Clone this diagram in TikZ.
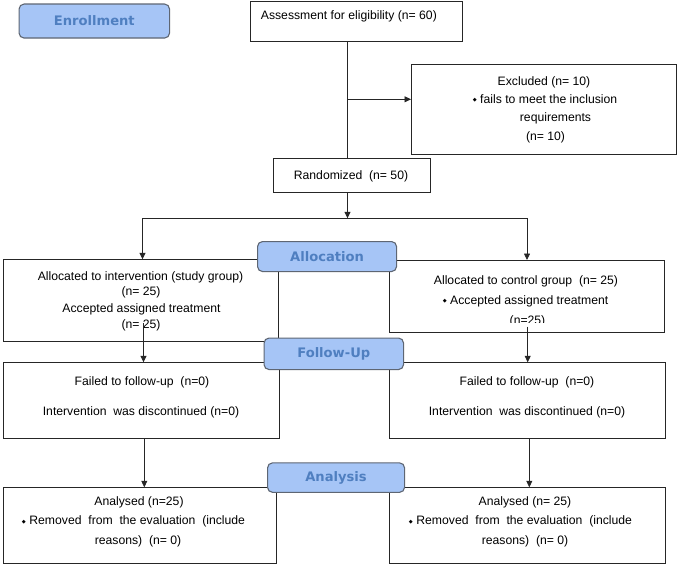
\documentclass[tikz,border=0pt]{standalone}
\usepackage{fontspec}
\setmainfont{Liberation Sans}
\newfontfamily\labfont{DejaVu Sans}
\usetikzlibrary{arrows.meta}
\definecolor{labfill}{HTML}{A6C5F6}
\definecolor{labtext}{HTML}{4F7FC0}
\definecolor{labdraw}{HTML}{5E6673}
\newcommand{\bul}{\raisebox{1.6pt}{{\labfont\scalebox{0.42}{◆}}}\hspace{3.5pt}}
\tikzset{
  box/.style={draw=black!85, line width=0.8pt, fill=white, inner sep=0pt, anchor=north west},
  phase/.style={draw=labdraw, line width=1.1pt, fill=labfill, rounded corners=5pt, inner sep=0pt,
     anchor=north west, text=labtext, font=\labfont\bfseries\fontsize{13.1}{15}\selectfont},
  txt/.style={inner sep=0pt, font=\fontsize{12.2}{14}\selectfont, text height=8.7pt, text depth=2.4pt, anchor=center},
  ln/.style={draw=black!85, line width=0.8pt},
  arr/.style={ln, -{Triangle[length=6.5pt,width=6pt]}}
}
\begin{document}
\begin{tikzpicture}[x=1pt,y=-1pt]
\useasboundingbox (0,0) rectangle (677,564);
% boxes
\node[box, minimum width=212pt, minimum height=40.5pt] (assess) at (250,0.6) {};
\node[box, minimum width=265pt, minimum height=90.5pt] (excl) at (411,63.8) {};
\node[box, minimum width=157pt, minimum height=34pt] (rand) at (272.5,158) {};
\node[box, minimum width=275pt, minimum height=81.5pt] (allocL) at (3.3,259.3) {};
\node[box, minimum width=275pt, minimum height=71.5pt] (allocR) at (388.7,260) {};
\node[box, minimum width=275.5pt, minimum height=76pt] (fuL) at (3.3,362.3) {};
\node[box, minimum width=276pt, minimum height=76pt] (fuR) at (389,362.3) {};
\node[box, minimum width=272.5pt, minimum height=75.5pt] (anL) at (3.3,487.3) {};
\node[box, minimum width=276pt, minimum height=75.5pt] (anR) at (389,487.3) {};
% texts
\node[txt, anchor=west] (tAssess) at (260.7,16.5) {Assessment for eligibility (n= 60)};
\node[txt] (tEx1) at (544,82) {Excluded (n= 10)};
\node[txt] (tEx2) at (545,100) {\bul fails to meet the inclusion};
\node[txt] (tEx3) at (555.5,118) {requirements};
\node[txt] (tEx4) at (545.5,137) {(n= 10)};
\node[txt] (tRand) at (351,176.7) {Randomized\ \ (n= 50)};
\node[txt] (tAL1) at (140.5,277) {Allocated to intervention (study group)};
\node[txt] (tAL2) at (141,292.5) {(n= 25)};
\node[txt] (tAL3) at (141.5,309) {Accepted assigned treatment};
\node[txt] (tAL4) at (141,325) {(n= 25)};
\node[txt] (tAR1) at (526,281) {Allocated to control group\ \ (n= 25)};
\node[txt] (tAR2) at (525.5,301) {\bul Accepted assigned treatment};
\begin{scope}
\clip (389,305) rectangle (663,322.5);
\node[txt] (tAR3) at (527.5,321) {(n=25)};
\end{scope}
\node[txt] (tFL1) at (142,382.3) {Failed to follow-up\ \ (n=0)};
\node[txt] (tFL2) at (141,412) {Intervention\ \ was discontinued (n=0)};
\node[txt] (tFR1) at (527,382.3) {Failed to follow-up\ \ (n=0)};
\node[txt] (tFR2) at (527,412) {Intervention\ \ was discontinued (n=0)};
\node[txt] (tNL1) at (139,502) {Analysed (n=25)};
\node[txt] (tNL2) at (133.5,521.5) {\bul Removed\ \ from\ \ the evaluation\ \ (include};
\node[txt] (tNL3) at (138,541) {reasons)\ \ (n= 0)};
\node[txt] (tNR1) at (525,502) {Analysed (n= 25)};
\node[txt] (tNR2) at (520.5,521.5) {\bul Removed\ \ from\ \ the evaluation\ \ (include};
\node[txt] (tNR3) at (525,541) {reasons)\ \ (n= 0)};
% connectors
\coordinate (br) at (347.3,99.3);
\draw[ln] (assess.south -| br) -- (rand.north -| br);
\draw[arr] (br) -- (br -| excl.west);
\coordinate (split) at (347.5,218.3);
\draw[arr] (rand.south -| split) -- (split);
\coordinate (sl) at (142.5,218.3);
\coordinate (sr) at (527,218.3);
\draw[ln] (sl) -- (sr);
\draw[arr] (sl) -- (sl |- allocL.north);
\draw[arr] (sr) -- (sr |- allocR.north);
\coordinate (fl) at (143.5,323);
\draw[arr] (fl) -- (fl |- fuL.north);
\coordinate (fr) at (527.7,326.5);
\draw[arr] (fr) -- (fr |- fuR.north);
\coordinate (al) at (144.3,450);
\draw[arr] (al |- fuL.south) -- (al |- anL.north);
\coordinate (ar) at (529.3,450);
\draw[arr] (ar |- fuR.south) -- (ar |- anR.north);
% phase labels
\node[phase, minimum width=150.5pt, minimum height=34pt] (enroll) at (18.5,3.5) {Enrollment};
\node[phase, minimum width=139pt, minimum height=30pt] (alloc) at (257,241) {Allocation};
\node[phase, minimum width=139.5pt, minimum height=31.5pt] (follow) at (263.5,337.5) {Follow-Up};
\node[phase, minimum width=137pt, minimum height=29.5pt] (analysis) at (267,462.3) {Analysis};
\end{tikzpicture}
\end{document}
